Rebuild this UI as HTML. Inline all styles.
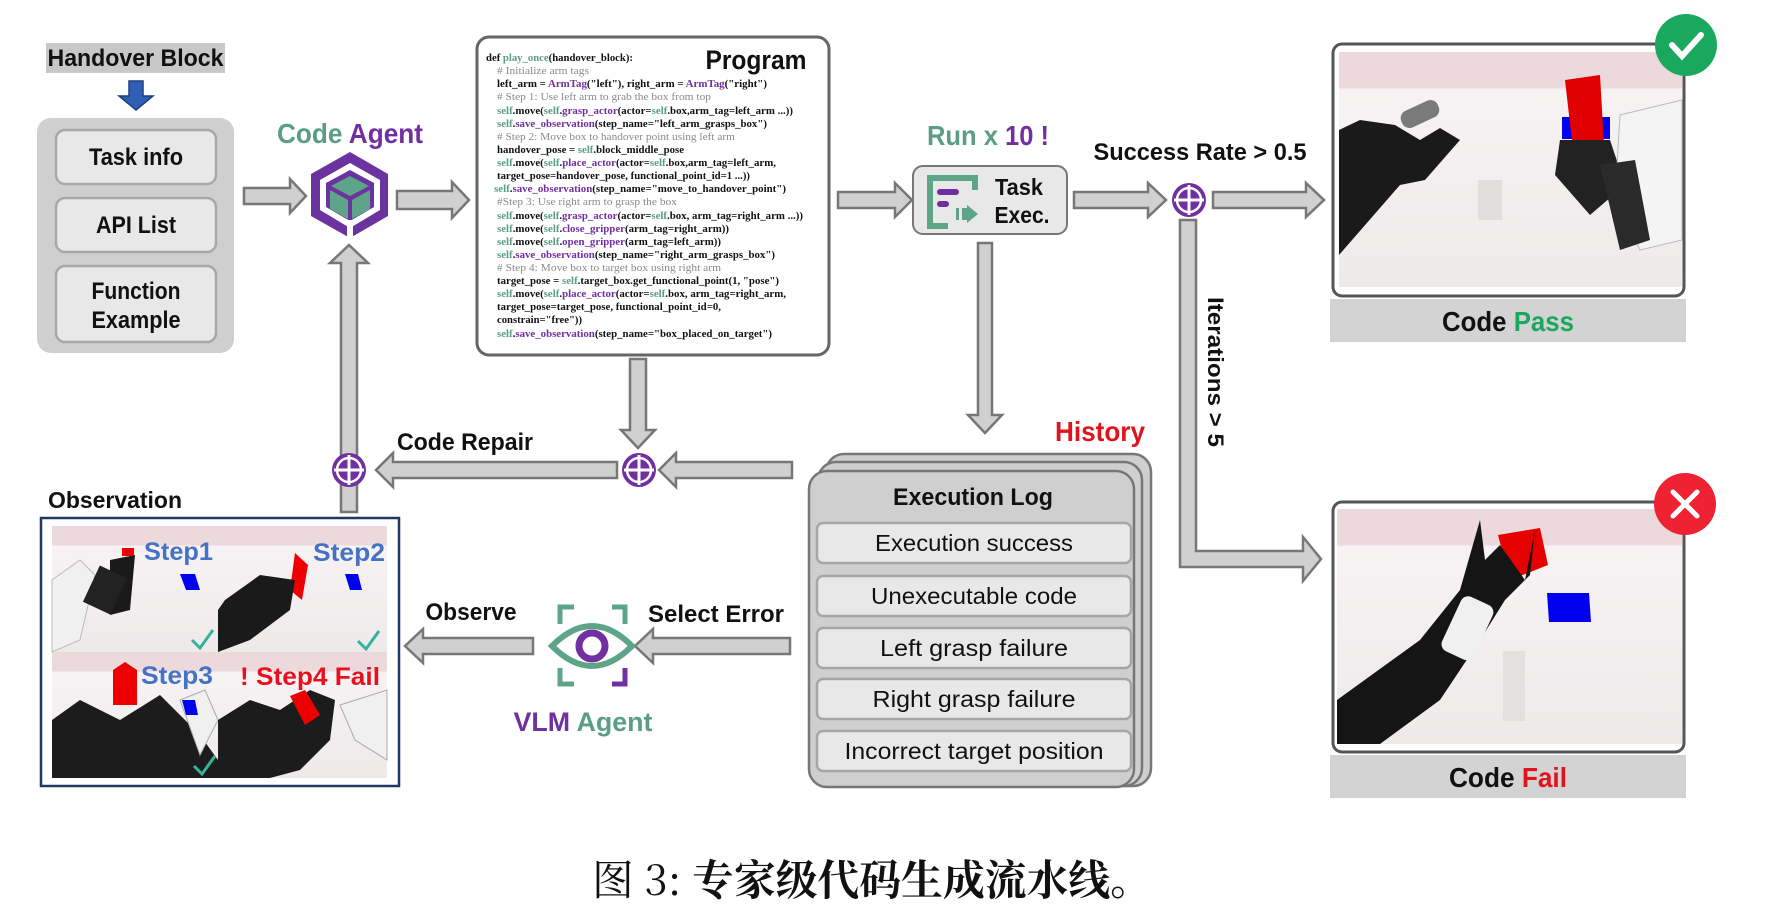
<!DOCTYPE html>
<html><head><meta charset="utf-8"><style>
html,body{margin:0;padding:0;background:#fff;}
svg{display:block;}
.c{font-family:"Liberation Sans Narrow","Liberation Sans",sans-serif;font-weight:bold;}
.code{font-family:"Liberation Serif",serif;font-size:10.5px;font-weight:bold;fill:#111;}
.g{fill:#5a9e86;} .p{fill:#7030a0;} .cm{fill:#8a8a8a;font-weight:normal;}
</style></head><body>
<svg width="1780" height="908" viewBox="0 0 1780 908" xmlns="http://www.w3.org/2000/svg">
<defs>
<linearGradient id="bg1" x1="0" y1="0" x2="0" y2="1"><stop offset="0" stop-color="#ecd9db"/><stop offset="0.15" stop-color="#ecd9db"/><stop offset="0.16" stop-color="#f7f2f3"/><stop offset="1" stop-color="#eeeaea"/></linearGradient>
</defs>

<!-- Handover block -->
<rect x="46" y="43" width="179" height="30" fill="#c8c8c8"/>
<text x="135.5" y="66" text-anchor="middle" class="c" font-size="24" fill="#111" textLength="176" lengthAdjust="spacingAndGlyphs">Handover Block</text>
<polygon points="129,81 143,81 143,96 153,96 136,110 119,96 129,96" fill="#2f5fb3" stroke="#1f3f80" stroke-width="1.5"/>

<!-- left panel -->
<rect x="37" y="118" width="197" height="235" rx="14" fill="#d0cfd0"/>
<rect x="56" y="130" width="160" height="54" rx="9" fill="#e8e8e8" stroke="#a8a8a8" stroke-width="2.5"/>
<text x="136" y="165" text-anchor="middle" class="c" font-size="24" fill="#111" textLength="94" lengthAdjust="spacingAndGlyphs">Task info</text>
<rect x="56" y="198" width="160" height="54" rx="9" fill="#e8e8e8" stroke="#a8a8a8" stroke-width="2.5"/>
<text x="136" y="233" text-anchor="middle" class="c" font-size="24" fill="#111" textLength="80" lengthAdjust="spacingAndGlyphs">API List</text>
<rect x="56" y="266" width="160" height="76" rx="9" fill="#e8e8e8" stroke="#a8a8a8" stroke-width="2.5"/>
<text x="136" y="299" text-anchor="middle" class="c" font-size="24" fill="#111" textLength="89" lengthAdjust="spacingAndGlyphs">Function</text>
<text x="136" y="328" text-anchor="middle" class="c" font-size="24" fill="#111" textLength="89" lengthAdjust="spacingAndGlyphs">Example</text>

<!-- Code agent -->
<text x="350" y="143" text-anchor="middle" class="c" font-size="28" textLength="146" lengthAdjust="spacingAndGlyphs"><tspan fill="#5a9e86">Code </tspan><tspan fill="#7030a0">Agent</tspan></text>
<polygon points="350,152 388,174 388,216 350,238 311,216 311,174" fill="#6b33a0"/>
<polygon points="350,163 380,180 380,210 350,228 320,210 320,180" fill="#fff"/>
<polygon points="350,170 374,183 374,207 350,221 326,207 326,183" fill="#6b33a0"/>
<polygon points="350,176 369,186 350,196 331,186" fill="#5ea488"/>
<polygon points="330,190 348,200 348,219 330,209" fill="#5ea488"/>
<polygon points="370,190 352,200 352,219 370,209" fill="#5ea488"/>
<rect x="347" y="220" width="6" height="22" fill="#fff"/>

<!-- Program -->
<rect x="477" y="37" width="352" height="318" rx="12" fill="#fff" stroke="#666" stroke-width="3"/>
<text x="756" y="69" text-anchor="middle" class="c" font-size="27" fill="#111" textLength="101" lengthAdjust="spacingAndGlyphs">Program</text>
<g class="code">
<text x="486" y="61" textLength="147" lengthAdjust="spacingAndGlyphs">def <tspan class="g">play_once</tspan>(handover_block):</text>
<text x="497" y="74" textLength="92" lengthAdjust="spacingAndGlyphs" class="cm"># Initialize arm tags</text>
<text x="497" y="87" textLength="270" lengthAdjust="spacingAndGlyphs">left_arm = <tspan class="p">ArmTag</tspan>("left"), right_arm = <tspan class="p">ArmTag</tspan>("right")</text>
<text x="497" y="100" textLength="214" lengthAdjust="spacingAndGlyphs" class="cm"># Step 1: Use left arm to grab the box from top</text>
<text x="497" y="114" textLength="296" lengthAdjust="spacingAndGlyphs"><tspan class="g">self</tspan>.move(<tspan class="g">self</tspan>.<tspan class="p">grasp_actor</tspan>(actor=<tspan class="g">self</tspan>.box,arm_tag=left_arm ...))</text>
<text x="497" y="127" textLength="270" lengthAdjust="spacingAndGlyphs"><tspan class="g">self</tspan>.<tspan class="p">save_observation</tspan>(step_name="left_arm_grasps_box")</text>
<text x="497" y="140" textLength="238" lengthAdjust="spacingAndGlyphs" class="cm"># Step 2: Move box to handover point using left arm</text>
<text x="497" y="153" textLength="187" lengthAdjust="spacingAndGlyphs">handover_pose = <tspan class="g">self</tspan>.block_middle_pose</text>
<text x="497" y="166" textLength="279" lengthAdjust="spacingAndGlyphs"><tspan class="g">self</tspan>.move(<tspan class="g">self</tspan>.<tspan class="p">place_actor</tspan>(actor=<tspan class="g">self</tspan>.box,arm_tag=left_arm,</text>
<text x="497" y="179" textLength="253" lengthAdjust="spacingAndGlyphs">target_pose=handover_pose, functional_point_id=1 ...))</text>
<text x="494" y="192" textLength="292" lengthAdjust="spacingAndGlyphs"><tspan class="g">self</tspan>.<tspan class="p">save_observation</tspan>(step_name="move_to_handover_point")</text>
<text x="497" y="205" textLength="180" lengthAdjust="spacingAndGlyphs" class="cm">#Step 3: Use right arm to grasp the box</text>
<text x="497" y="219" textLength="306" lengthAdjust="spacingAndGlyphs"><tspan class="g">self</tspan>.move(<tspan class="g">self</tspan>.<tspan class="p">grasp_actor</tspan>(actor=<tspan class="g">self</tspan>.box, arm_tag=right_arm ...))</text>
<text x="497" y="232" textLength="232" lengthAdjust="spacingAndGlyphs"><tspan class="g">self</tspan>.move(<tspan class="g">self</tspan>.<tspan class="p">close_gripper</tspan>(arm_tag=right_arm))</text>
<text x="497" y="245" textLength="224" lengthAdjust="spacingAndGlyphs"><tspan class="g">self</tspan>.move(<tspan class="g">self</tspan>.<tspan class="p">open_gripper</tspan>(arm_tag=left_arm))</text>
<text x="497" y="258" textLength="278" lengthAdjust="spacingAndGlyphs"><tspan class="g">self</tspan>.<tspan class="p">save_observation</tspan>(step_name="right_arm_grasps_box")</text>
<text x="497" y="271" textLength="224" lengthAdjust="spacingAndGlyphs" class="cm"># Step 4: Move box to target box using right arm</text>
<text x="497" y="284" textLength="282" lengthAdjust="spacingAndGlyphs">target_pose = <tspan class="g">self</tspan>.target_box.get_functional_point(1, "pose")</text>
<text x="497" y="297" textLength="289" lengthAdjust="spacingAndGlyphs"><tspan class="g">self</tspan>.move(<tspan class="g">self</tspan>.<tspan class="p">place_actor</tspan>(actor=<tspan class="g">self</tspan>.box, arm_tag=right_arm,</text>
<text x="497" y="310" textLength="224" lengthAdjust="spacingAndGlyphs">target_pose=target_pose, functional_point_id=0,</text>
<text x="497" y="323" textLength="85" lengthAdjust="spacingAndGlyphs">constrain="free"))</text>
<text x="497" y="337" textLength="275" lengthAdjust="spacingAndGlyphs"><tspan class="g">self</tspan>.<tspan class="p">save_observation</tspan>(step_name="box_placed_on_target")</text>
</g>

<!-- arrows -->
<g fill="#d0d0d0" stroke="#777" stroke-width="2.5" stroke-linejoin="miter">
<polygon points="244,188 290,188 290,179 306,196 290,213 290,204 244,204"/>
<polygon points="397,191 452,191 452,182 469,200 452,218 452,209 397,209"/>
<polygon points="838,192 895,192 895,183 912,200 895,217 895,208 838,208"/>
<polygon points="1074,192 1148,192 1148,183 1166,200 1148,217 1148,208 1074,208"/>
<polygon points="1213,192 1306,192 1306,183 1324,200 1306,217 1306,208 1213,208"/>
<polygon points="630,359 646,359 646,430 655,430 638,448 621,430 630,430"/>
<polygon points="978,243 992,243 992,415 1002,415 985,433 968,415 978,415"/>
<polygon points="792,462 676,462 676,453 659,470 676,487 676,478 792,478"/>
<polygon points="617,462 393,462 393,453 376,470 393,487 393,478 617,478"/>
<polygon points="341,512 357,512 357,263 368,263 349,245 330,263 341,263"/>
<polygon points="1180,220 1196,220 1196,551 1303,551 1303,537 1321,559 1303,581 1303,567 1180,567"/>
<polygon points="533,638 423,638 423,629 405,646 423,663 423,654 533,654"/>
<polygon points="790,638 653,638 653,629 635,646 653,663 653,654 790,654"/>
</g>

<!-- plus circles -->
<g>
<circle cx="1189" cy="200" r="17" fill="#7030a0"/>
<path d="M1189 185 V215 M1174 200 H1204" stroke="#fff" stroke-width="3"/>
<circle cx="1189" cy="200" r="12" fill="none" stroke="#fff" stroke-width="2.5"/>
<circle cx="349" cy="470" r="17" fill="#7030a0"/>
<path d="M349 455 V485 M334 470 H364" stroke="#fff" stroke-width="3"/>
<circle cx="349" cy="470" r="12" fill="none" stroke="#fff" stroke-width="2.5"/>
<circle cx="639" cy="470" r="17" fill="#7030a0"/>
<path d="M639 455 V485 M624 470 H654" stroke="#fff" stroke-width="3"/>
<circle cx="639" cy="470" r="12" fill="none" stroke="#fff" stroke-width="2.5"/>
</g>

<!-- Task exec -->
<text x="988" y="145" text-anchor="middle" class="c" font-size="28" textLength="122" lengthAdjust="spacingAndGlyphs"><tspan fill="#5a9e86">Run x </tspan><tspan fill="#7030a0">10 !</tspan></text>
<rect x="913" y="166" width="154" height="68" rx="10" fill="#e8e8e8" stroke="#777" stroke-width="2"/>
<path d="M948 178 H930 V226 H948" fill="none" stroke="#5ea488" stroke-width="6"/>
<path d="M940 178 H975 V190" fill="none" stroke="#5ea488" stroke-width="6"/>
<rect x="937" y="189" width="22" height="6" rx="3" fill="#7030a0"/>
<rect x="937" y="201" width="12" height="6" rx="3" fill="#7030a0"/>
<rect x="956" y="208" width="3" height="12" fill="#5ea488"/><rect x="962" y="208" width="3" height="12" fill="#5ea488"/>
<polygon points="967,205 967,223 978,214" fill="#5ea488"/>
<rect x="965" y="208" width="4" height="12" fill="#5ea488"/>
<text x="1019" y="195" text-anchor="middle" class="c" font-size="23" fill="#111" textLength="48" lengthAdjust="spacingAndGlyphs">Task</text>
<text x="1022" y="223" text-anchor="middle" class="c" font-size="23" fill="#111" textLength="55" lengthAdjust="spacingAndGlyphs">Exec.</text>

<text x="1200" y="160" text-anchor="middle" class="c" font-size="24" fill="#111" textLength="213" lengthAdjust="spacingAndGlyphs">Success Rate &gt; 0.5</text>
<text transform="translate(1208,372) rotate(90)" text-anchor="middle" class="c" font-size="22" fill="#111" textLength="150" lengthAdjust="spacingAndGlyphs">Iterations &gt; 5</text>

<!-- Pass -->
<rect x="1333" y="44" width="351" height="252" rx="9" fill="#fff" stroke="#555" stroke-width="3"/>
<rect x="1339" y="52" width="343" height="235" fill="url(#bg1)"/>
<polygon points="1339,130 1360,120 1395,125 1420,140 1440,128 1460,140 1425,180 1400,185 1339,255" fill="#1a1a1a"/>
<rect x="1400" y="105" width="40" height="18" rx="8" fill="#7a7a7a" transform="rotate(-25 1420 114)"/>
<rect x="1478" y="180" width="24" height="40" fill="#e2dede"/>
<rect x="1562" y="117" width="48" height="22" fill="#0000ee"/>
<polygon points="1565,80 1600,75 1604,145 1573,150" fill="#e00000"/>
<polygon points="1560,140 1610,140 1625,185 1590,215 1555,175" fill="#222"/>
<polygon points="1620,115 1682,100 1682,240 1640,250 1615,200" fill="#f4f4f4" stroke="#bbb"/>
<polygon points="1600,165 1635,160 1650,240 1620,250" fill="#2a2a2a"/>
<circle cx="1686" cy="45" r="31" fill="#1aa85e"/>
<path d="M1672 45 L1682 56 L1701 35" fill="none" stroke="#fff" stroke-width="6" stroke-linecap="round"/>
<rect x="1330" y="299" width="356" height="43" fill="#d3d3d3"/>
<text x="1508" y="331" text-anchor="middle" class="c" font-size="28" textLength="132" lengthAdjust="spacingAndGlyphs"><tspan fill="#111">Code </tspan><tspan fill="#1aa85e">Pass</tspan></text>

<!-- History stack -->
<text x="1100" y="441" text-anchor="middle" class="c" font-size="28" fill="#e0141e" textLength="90" lengthAdjust="spacingAndGlyphs">History</text>
<rect x="826" y="454" width="325" height="332" rx="18" fill="#cfcfcf" stroke="#777" stroke-width="2.5"/>
<rect x="818" y="462" width="324" height="324" rx="18" fill="#cfcfcf" stroke="#777" stroke-width="2.5"/>
<rect x="809" y="471" width="325" height="316" rx="18" fill="#cfcfcf" stroke="#777" stroke-width="2.5"/>
<text x="973" y="505" text-anchor="middle" class="c" font-size="24" fill="#111" textLength="160" lengthAdjust="spacingAndGlyphs">Execution Log</text>
<g fill="#e8e8e8" stroke="#a6a6a6" stroke-width="2.5">
<rect x="817" y="523" width="314" height="40" rx="6"/>
<rect x="817" y="576" width="314" height="40" rx="6"/>
<rect x="817" y="628" width="314" height="40" rx="6"/>
<rect x="817" y="679" width="314" height="40" rx="6"/>
<rect x="817" y="731" width="314" height="40" rx="6"/>
</g>
<g class="c" font-size="23" fill="#111" text-anchor="middle" style="font-weight:normal">
<text x="974" y="551" textLength="198" lengthAdjust="spacingAndGlyphs">Execution success</text>
<text x="974" y="604" textLength="206" lengthAdjust="spacingAndGlyphs">Unexecutable code</text>
<text x="974" y="656" textLength="188" lengthAdjust="spacingAndGlyphs">Left grasp failure</text>
<text x="974" y="707" textLength="203" lengthAdjust="spacingAndGlyphs">Right grasp failure</text>
<text x="974" y="759" textLength="259" lengthAdjust="spacingAndGlyphs">Incorrect target position</text>
</g>

<!-- Fail -->
<rect x="1333" y="502" width="351" height="250" rx="9" fill="#fff" stroke="#555" stroke-width="3"/>
<rect x="1337" y="509" width="345" height="235" fill="url(#bg1)"/>
<rect x="1503" y="651" width="22" height="70" fill="#e4e0e0"/>
<polygon points="1498,535 1540,528 1548,565 1510,580" fill="#e60000"/>
<polygon points="1547,593 1589,593 1591,622 1549,622" fill="#0000ee"/>
<polygon points="1480,520 1485,560 1500,545 1525,580 1535,530 1530,575 1505,600 1480,640 1440,700 1380,744 1337,744 1337,700 1420,640 1460,590" fill="#151515"/>
<rect x="1450" y="598" width="35" height="60" rx="8" fill="#f0f0f0" transform="rotate(25 1467 628)"/>
<circle cx="1685" cy="504" r="31" fill="#ee2233"/>
<path d="M1673 492 L1697 516 M1697 492 L1673 516" stroke="#fff" stroke-width="5" stroke-linecap="round"/>
<rect x="1330" y="755" width="356" height="43" fill="#d3d3d3"/>
<text x="1508" y="787" text-anchor="middle" class="c" font-size="28" textLength="118" lengthAdjust="spacingAndGlyphs"><tspan fill="#111">Code </tspan><tspan fill="#e0141e">Fail</tspan></text>

<!-- Code Repair / Observation -->
<text x="465" y="450" text-anchor="middle" class="c" font-size="24" fill="#111" textLength="136" lengthAdjust="spacingAndGlyphs">Code Repair</text>
<text x="48" y="508" class="c" font-size="23" fill="#111" textLength="134" lengthAdjust="spacingAndGlyphs">Observation</text>
<rect x="41" y="518" width="358" height="268" fill="#fff" stroke="#1f3864" stroke-width="2.5"/>
<rect x="52" y="526" width="166" height="126" fill="url(#bg1)"/>
<rect x="218" y="526" width="169" height="126" fill="url(#bg1)"/>
<rect x="52" y="652" width="166" height="126" fill="url(#bg1)"/>
<rect x="218" y="652" width="169" height="126" fill="url(#bg1)"/>
<!-- q1 -->
<polygon points="52,580 80,560 95,575 80,640 52,652" fill="#f0f0f0" stroke="#bbb"/>
<polygon points="110,560 135,555 130,610 110,615" fill="#1a1a1a"/>
<rect x="122" y="548" width="12" height="8" fill="#e00"/>
<rect x="90" y="570" width="30" height="40" fill="#222" transform="rotate(25 105 590)"/>
<polygon points="180,574 195,574 200,590 186,590" fill="#00e"/>
<!-- q2 -->
<polygon points="295,553 308,565 302,600 290,590" fill="#e00"/>
<polygon points="225,600 260,575 295,580 290,610 250,640 218,652 218,610" fill="#1a1a1a"/>
<polygon points="345,574 358,574 362,590 350,590" fill="#00e"/>
<!-- q3 -->
<polygon points="113,670 125,662 137,670 137,705 113,705" fill="#e00"/>
<polygon points="52,720 80,700 120,720 160,695 200,735 218,760 218,778 52,778" fill="#1c1c1c"/>
<polygon points="180,700 205,690 218,720 200,755" fill="#f0f0f0" stroke="#aaa"/>
<polygon points="182,700 195,700 198,715 186,715" fill="#00e"/>
<!-- q4 -->
<polygon points="218,720 250,700 280,710 310,690 335,700 330,740 300,770 270,778 218,778" fill="#1c1c1c"/>
<polygon points="290,696 305,690 320,715 305,725" fill="#e00"/>
<polygon points="340,705 387,690 387,760 355,740" fill="#f0f0f0" stroke="#aaa"/>
<g class="c" font-size="25" fill="#4472c4">
<text x="144" y="560" textLength="69" lengthAdjust="spacingAndGlyphs">Step1</text>
<text x="313" y="561" textLength="72" lengthAdjust="spacingAndGlyphs">Step2</text>
<text x="141" y="684" textLength="72" lengthAdjust="spacingAndGlyphs">Step3</text>
</g>
<text x="240" y="685" class="c" font-size="25" fill="#e8101c" textLength="140" lengthAdjust="spacingAndGlyphs">! Step4 Fail</text>
<g fill="none" stroke="#35b29a" stroke-width="3">
<path d="M192 640 L200 648 L213 630"/>
<path d="M358 641 L366 649 L379 631"/>
<path d="M194 766 L202 774 L215 756"/>
</g>

<!-- VLM -->
<text x="471" y="620" text-anchor="middle" class="c" font-size="24" fill="#111" textLength="91" lengthAdjust="spacingAndGlyphs">Observe</text>
<text x="716" y="622" text-anchor="middle" class="c" font-size="24" fill="#111" textLength="136" lengthAdjust="spacingAndGlyphs">Select Error</text>
<g fill="none" stroke-width="5">
<path d="M560 624 V607 H574" stroke="#5ea488"/>
<path d="M612 607 H625 V624" stroke="#5ea488"/>
<path d="M560 668 V684 H574" stroke="#5ea488"/>
<path d="M612 684 H625 V668" stroke="#7030a0"/>
</g>
<path d="M552 646 Q592 606 632 646 Q592 686 552 646 Z" fill="none" stroke="#5ea488" stroke-width="6"/>
<circle cx="592" cy="646" r="13" fill="none" stroke="#7030a0" stroke-width="7"/>
<text x="583" y="731" text-anchor="middle" class="c" font-size="27" textLength="139" lengthAdjust="spacingAndGlyphs"><tspan fill="#7030a0">VLM </tspan><tspan fill="#5a9e86">Agent</tspan></text>

<!-- caption -->
<text x="872" y="895" text-anchor="middle" font-family="'Noto Serif CJK SC','Liberation Serif',serif" font-size="42" fill="#111" textLength="560" lengthAdjust="spacingAndGlyphs">图 3: <tspan font-weight="bold">专家级代码生成流水线。</tspan></text>
</svg>
</body></html>
